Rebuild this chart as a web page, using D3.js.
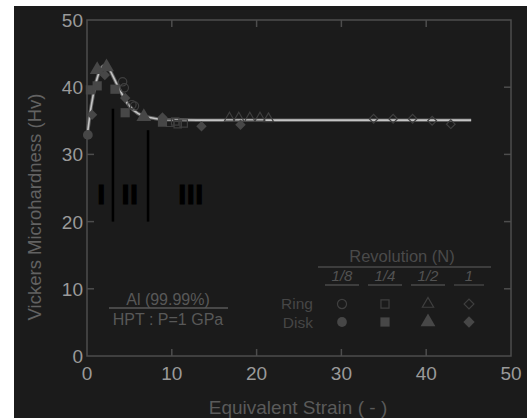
<!DOCTYPE html>
<html>
<head>
<meta charset="utf-8">
<script src="https://cdn.jsdelivr.net/npm/d3@7"></script>
<style>
  body { margin: 0; background: #fff; }
  svg { display: block; font-family: "Liberation Sans", Arial, sans-serif; }
</style>
</head>
<body>
<div id="chart"></div>
<script>
// values
const xTicks = [0, 10, 20, 30, 40, 50];
const yTicks = [0, 10, 20, 30, 40, 50];

// fitted curve (strain, Hv)
const fitCurve = [[0, 32.6], [0.5, 37.2], [1, 40.4], [1.5, 42.4], [2, 43.2], [2.5, 42.9],
  [3, 41.8], [3.5, 40.5], [4, 39.3], [4.5, 38.1], [5, 37.2], [6, 36.1], [7, 35.6],
  [8, 35.35], [10, 35.15], [13, 35.1], [45.3, 35.1]];

// disk (filled) and ring (open) measurements
const diskCircle   = [[0.1, 32.9]];
const diskSquare   = [[0.4, 39.6], [1.2, 40.2], [3.3, 39.7], [4.5, 36.2], [8.9, 34.8]];
const diskTriangle = [[1.2, 42.6], [2.3, 43.0], [6.7, 35.6]];
const diskDiamond  = [[0.6, 35.9], [2.1, 41.8], [4.5, 38.4], [8.9, 35.5], [13.5, 34.2], [18.1, 34.4]];
const ringCircle   = [[4.2, 40.8], [4.4, 39.9], [5.3, 37.4], [5.6, 37.2]];
const ringSquare   = [[9.8, 34.7], [10.4, 34.9], [10.7, 34.5], [11.4, 34.6]];
const ringTriangle = [[16.8, 35.4], [17.9, 35.4], [19.2, 35.4], [20.4, 35.4], [21.4, 35.3]];
const ringDiamond  = [[33.8, 35.3], [36.1, 35.3], [38.4, 35.3], [40.7, 35.0], [42.9, 34.5]];

const revolutions = ["1/8", "1/4", "1/2", "1"];
const rowLabels = ["Ring", "Disk"];
const regions = [{ label: "I", x: 1.75 }, { label: "II", x: 5.1 }, { label: "III", x: 12.3 }];
const regionLines = [{ x: 3.06, top: 36.8 }, { x: 7.2, top: 33.6 }];

const W = 527, H = 418;
const svg = d3.select("#chart").append("svg").attr("width", W).attr("height", H);

// dark panel (white strip left/top)
svg.append("rect").attr("x", 14).attr("y", 6).attr("width", W - 14).attr("height", H - 6)
  .attr("fill", "#1b1b1b");

const x = d3.scaleLinear().domain([0, 50]).range([87, 511]);
const y = d3.scaleLinear().domain([0, 50]).range([356, 20]);

const axisColor = "#4d4d4d";
const tickText = "#9a9a9a";

// frame
svg.append("rect").attr("x", x(0)).attr("y", y(50))
  .attr("width", x(50) - x(0)).attr("height", y(0) - y(50))
  .attr("fill", "none").attr("stroke", axisColor).attr("stroke-width", 1.5);

// inward ticks on all four sides
const inner = [10, 20, 30, 40];
const tk = svg.append("g").attr("stroke", axisColor).attr("stroke-width", 1.5);
inner.forEach(v => {
  tk.append("line").attr("x1", x(v)).attr("x2", x(v)).attr("y1", y(0)).attr("y2", y(0) - 7);
  tk.append("line").attr("x1", x(v)).attr("x2", x(v)).attr("y1", y(50)).attr("y2", y(50) + 7);
  tk.append("line").attr("y1", y(v)).attr("y2", y(v)).attr("x1", x(0)).attr("x2", x(0) + 7);
  tk.append("line").attr("y1", y(v)).attr("y2", y(v)).attr("x1", x(50)).attr("x2", x(50) - 7);
});

// tick labels
svg.append("g").selectAll("text").data(xTicks).join("text")
  .attr("x", d => x(d)).attr("y", y(0) + 24)
  .attr("text-anchor", "middle").attr("font-size", 19).attr("fill", tickText)
  .text(d => d);
svg.append("g").selectAll("text").data(yTicks).join("text")
  .attr("x", x(0) - 4).attr("y", d => y(d) + 7)
  .attr("text-anchor", "end").attr("font-size", 19).attr("fill", tickText)
  .text(d => d);

// axis titles
svg.append("text").attr("x", 298).attr("y", 414).attr("text-anchor", "middle")
  .attr("font-size", 19).attr("fill", "#5a5a5a").text("Equivalent Strain ( - )");
svg.append("text").attr("transform", "translate(41,207) rotate(-90)")
  .attr("text-anchor", "middle").attr("font-size", 18.5).attr("fill", "#626262")
  .text("Vickers Microhardness (Hv)");

// region separators and labels
svg.append("g").selectAll("line").data(regionLines).join("line")
  .attr("x1", d => x(d.x)).attr("x2", d => x(d.x))
  .attr("y1", d => y(d.top)).attr("y2", y(20))
  .attr("stroke", "#000").attr("stroke-width", 2.5);
svg.append("g").selectAll("text").data(regions).join("text")
  .attr("x", d => x(d.x)).attr("y", 204)
  .attr("text-anchor", "middle").attr("font-size", 27).attr("font-weight", "bold")
  .attr("letter-spacing", 1)
  .attr("fill", "#000").attr("stroke", "#000").attr("stroke-width", 1.2)
  .text(d => d.label);

// fitted curve
const line = d3.line().x(d => x(d[0])).y(d => y(d[1])).curve(d3.curveMonotoneX);
svg.append("path").datum(fitCurve).attr("d", line)
  .attr("fill", "none").attr("stroke", "#5e5e5e").attr("stroke-width", 3.5);
svg.append("path").datum(fitCurve).attr("d", line)
  .attr("fill", "none").attr("stroke", "#c4c4c4").attr("stroke-width", 1.6);

// markers
const fillCol = "#474747", openCol = "#3f3f3f";
const shapes = [d3.symbolCircle, d3.symbolSquare, d3.symbolTriangle, d3.symbolSquare];
const rot = [0, 0, 0, 45];
const diskSeries = [diskCircle, diskSquare, diskTriangle, diskDiamond];
const ringSeries = [ringCircle, ringSquare, ringTriangle, ringDiamond];
const diskSize = [75, 85, 95, 55];
const ringSize = [55, 55, 45, 38];

ringSeries.forEach((s, i) => {
  svg.append("g").selectAll("path").data(s).join("path")
    .attr("transform", d => `translate(${x(d[0])},${y(d[1])}) rotate(${rot[i]})`)
    .attr("d", d3.symbol().type(shapes[i]).size(ringSize[i]))
    .attr("fill", "none").attr("stroke", openCol).attr("stroke-width", 1.2);
});
diskSeries.forEach((s, i) => {
  svg.append("g").selectAll("path").data(s).join("path")
    .attr("transform", d => `translate(${x(d[0])},${y(d[1])}) rotate(${rot[i]})`)
    .attr("d", d3.symbol().type(shapes[i]).size(diskSize[i]))
    .attr("fill", fillCol);
});

// legend: revolutions
const lg = svg.append("g");
const colX = [342, 385, 428, 469];
const colW = [34, 34, 34, 30];
lg.append("text").attr("x", 402).attr("y", 262).attr("text-anchor", "middle")
  .attr("font-size", 16.5).attr("fill", "#4a4a4a").text("Revolution (N)");
lg.append("line").attr("x1", 318).attr("x2", 491).attr("y1", 267).attr("y2", 267)
  .attr("stroke", "#4a4a4a").attr("stroke-width", 1.3);
revolutions.forEach((r, i) => {
  lg.append("text").attr("x", colX[i]).attr("y", 281).attr("text-anchor", "middle")
    .attr("font-size", 15).attr("font-style", "italic").attr("fill", "#525252").text(r);
  lg.append("line").attr("x1", colX[i] - colW[i] / 2).attr("x2", colX[i] + colW[i] / 2)
    .attr("y1", 285).attr("y2", 285).attr("stroke", "#4a4a4a").attr("stroke-width", 1.3);
  lg.append("path").attr("transform", `translate(${colX[i]},304) rotate(${rot[i]})`)
    .attr("d", d3.symbol().type(shapes[i]).size(ringSize[i] + 10))
    .attr("fill", "none").attr("stroke", openCol).attr("stroke-width", 1.2);
  lg.append("path").attr("transform", `translate(${colX[i]},322) rotate(${rot[i]})`)
    .attr("d", d3.symbol().type(shapes[i]).size(diskSize[i] + (i === 3 ? 10 : 0)))
    .attr("fill", fillCol);
});
rowLabels.forEach((t, i) => {
  lg.append("text").attr("x", 313).attr("y", 309 + i * 19).attr("text-anchor", "end")
    .attr("font-size", 15.5).attr("fill", "#464646").text(t);
});

// material note
svg.append("text").attr("x", 168).attr("y", 305).attr("text-anchor", "middle")
  .attr("font-size", 16).attr("fill", "#585858").text("Al (99.99%)");
svg.append("line").attr("x1", 109).attr("x2", 228).attr("y1", 308).attr("y2", 308)
  .attr("stroke", "#585858").attr("stroke-width", 1.3);
svg.append("text").attr("x", 168).attr("y", 325).attr("text-anchor", "middle")
  .attr("font-size", 16).attr("fill", "#585858").text("HPT : P=1 GPa");
</script>
</body>
</html>
